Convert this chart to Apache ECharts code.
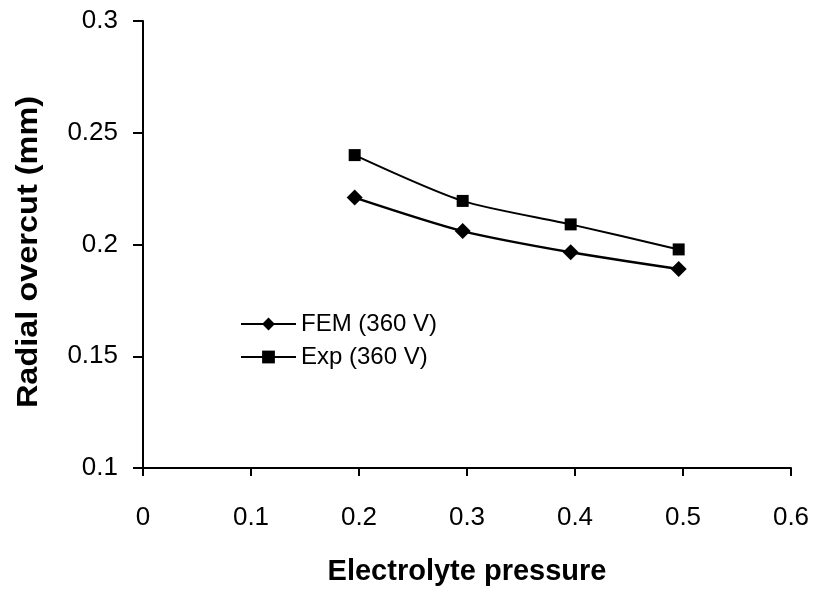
<!DOCTYPE html>
<html>
<head>
<meta charset="utf-8">
<script src="https://cdn.jsdelivr.net/npm/echarts@6/dist/echarts.min.js"></script>
<style>
html,body{margin:0;padding:0;background:#fff;}
#c{width:817px;height:595px;}
</style>
</head>
<body>
<div id="c"></div>
<script>
var pressure = [0.196, 0.296, 0.396, 0.496];
var femValues = [0.221, 0.206, 0.1965, 0.189];
var expValues = [0.240, 0.2195, 0.209, 0.1978];
var xTicks = [0, 0.1, 0.2, 0.3, 0.4, 0.5, 0.6];
var yTicks = [0.1, 0.15, 0.2, 0.25, 0.3];
var seriesNames = ['FEM (360 V)', 'Exp (360 V)'];
var xTitle = 'Electrolyte pressure';
var yTitle = 'Radial overcut (mm)';

function pairs(xs, ys) { return xs.map(function (x, i) { return [x, ys[i]]; }); }

var FONT = '"Liberation Sans", Arial, sans-serif';
var chart = echarts.init(document.getElementById('c'), null, {renderer: 'canvas'});
chart.setOption({
  animation: false,
  backgroundColor: '#fff',
  grid: {left: 143, right: 26, top: 21, bottom: 127, containLabel: false},
  legend: {
    left: 240, top: 312, orient: 'vertical', padding: 0,
    itemWidth: 55, itemHeight: 16, itemGap: 9,
    textStyle: {fontFamily: FONT, fontSize: 24, color: '#000'},
    data: seriesNames
  },
  xAxis: {
    type: 'value', min: xTicks[0], max: xTicks[xTicks.length - 1], interval: 0.1,
    name: xTitle, nameLocation: 'middle', nameGap: 89,
    nameTextStyle: {fontFamily: FONT, fontSize: 29, fontWeight: 'bold', color: '#000'},
    axisLine: {show: true, onZero: false, lineStyle: {color: '#000', width: 2}},
    axisTick: {show: true, inside: false, length: 8, lineStyle: {color: '#000', width: 2}},
    axisLabel: {fontFamily: FONT, fontSize: 26, color: '#000', margin: 37,
      formatter: function (v) { return String(Math.round(v * 10) / 10); }},
    splitLine: {show: false}
  },
  yAxis: {
    type: 'value', min: yTicks[0], max: yTicks[yTicks.length - 1], interval: 0.05,
    axisLine: {show: true, onZero: false, lineStyle: {color: '#000', width: 2}},
    axisTick: {show: true, inside: false, length: 10, lineStyle: {color: '#000', width: 2}},
    axisLabel: {fontFamily: FONT, fontSize: 26, color: '#000', margin: 25,
      formatter: function (v) { return String(Math.round(v * 100) / 100); }},
    splitLine: {show: false}
  },
  graphic: [{
    type: 'text', x: 29, y: 252, rotation: Math.PI / 2, scaleX: 1.12,
    style: {text: yTitle, font: 'bold 29px ' + FONT, fill: '#000',
      align: 'center', verticalAlign: 'middle', textAlign: 'center', textVerticalAlign: 'middle'}
  }],
  series: [
    {
      name: seriesNames[0], type: 'line', data: pairs(pressure, femValues),
      smooth: 0.25, symbol: 'diamond', symbolSize: 16,
      lineStyle: {color: '#000', width: 2.5}, itemStyle: {color: '#000'}
    },
    {
      name: seriesNames[1], type: 'line', data: pairs(pressure, expValues),
      smooth: 0.25, symbol: 'rect', symbolSize: 12,
      lineStyle: {color: '#000', width: 2}, itemStyle: {color: '#000'}
    }
  ]
});
</script>
</body>
</html>
